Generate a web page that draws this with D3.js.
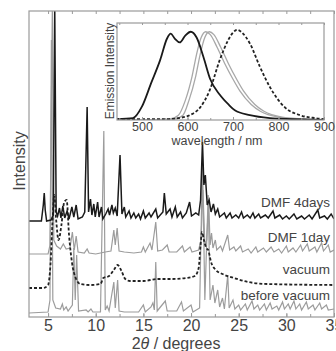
<!DOCTYPE html>
<html>
<head>
<meta charset="utf-8">
<script src="https://cdn.jsdelivr.net/npm/d3@7/dist/d3.min.js"></script>
<style>
  html, body { margin: 0; padding: 0; background: #fff; }
  svg { display: block; }
  text { font-family: "Liberation Sans", Arial, Helvetica, sans-serif; fill: #444; }
</style>
</head>
<body>
<svg id="chart" width="336" height="351"></svg>
<script>
// ---------- DATA ----------
// XRD patterns: [2theta (deg), stacked intensity (a.u.)]
const xTicks = [5, 10, 15, 20, 25, 30, 35];
const xMinorTicks = [5, 7.5, 10, 12.5, 15, 17.5, 20, 22.5, 25, 27.5, 30, 32.5, 35];
const traceLabels = ["DMF 4days", "DMF 1day", "vacuum", "before vacuum"];
const labelLevels = [110, 75, 43, 17];

const dmf4days = [
  [3.0,96],[4.3,96],[4.5,112],[4.6,124],[4.7,107],[4.85,96],[5.3,97],[5.55,102],[5.7,310],[5.85,105],
  [6.0,101],[6.2,109],[6.35,99],[6.55,111],[6.75,99],[7.0,106],[7.2,98],[7.5,110],[7.7,100],[7.95,112],
  [8.15,98],[8.6,100],[8.85,105],[9.1,210],[9.25,105],[9.45,118],[9.6,102],[9.8,113],[9.95,100],[10.2,115],
  [10.35,100],[10.6,110],[10.75,98],[11.05,103],[11.3,108],[11.45,102],[11.7,112],[11.85,104],[12.05,109],[12.25,101],
  [12.55,162],[12.75,103],[13.0,110],[13.15,100],[13.5,106],[13.7,99],[14.0,104],[14.2,99],[14.5,103],[14.7,98],
  [15.0,106],[15.2,99],[15.6,104],[15.8,100],[16.3,108],[16.5,99],[17.05,105],[17.2,124],[17.4,103],[17.8,108],
  [18.0,100],[18.35,110],[18.55,100],[18.9,105],[19.1,99],[19.5,104],[19.85,115],[20.05,101],[20.5,104],[20.8,102],
  [21.0,117],[21.2,175],[21.35,132],[21.5,142],[21.7,112],[21.9,117],[22.1,105],[22.35,113],[22.55,103],[22.8,108],
  [23.0,100],[23.5,104],[23.7,99],[24.1,104],[24.3,99],[24.7,102],[25.0,99],[25.3,105],[25.5,99],[25.9,102],
  [26.2,99],[26.5,104],[26.7,99],[27.1,103],[27.3,99],[27.8,102],[28.1,99],[28.6,106],[28.8,99],[29.3,102],
  [29.6,98],[30.0,101],[30.3,98],[30.8,103],[31.1,98],[31.6,101],[31.9,98],[32.4,102],[32.7,98],[33.3,107],
  [33.5,99],[34.0,101],[34.3,98],[34.7,103],[35.0,98]
];
const dmf1day = [
  [3.0,63],[5.0,63],[5.2,72],[5.45,310],[5.6,77],[5.9,71],[6.3,68],[6.6,73],[6.9,68],[7.3,69],
  [7.55,85],[7.75,67],[7.95,81],[8.15,65],[8.8,64],[9.1,68],[9.3,64],[10.0,63],[10.5,64],[11.0,65],
  [11.6,66],[11.9,87],[12.05,72],[12.25,89],[12.45,66],[13.0,65],[14.0,64],[14.8,65],[15.0,70],[15.2,65],
  [15.7,74],[15.9,67],[16.3,95],[16.5,66],[17.0,67],[17.5,72],[17.7,65],[18.5,65],[19.1,71],[19.3,65],
  [19.9,70],[20.1,65],[20.8,67],[21.05,77],[21.25,127],[21.45,72],[21.65,77],[21.85,117],[22.0,72],[22.15,84],
  [22.3,69],[22.55,77],[22.7,67],[23.1,71],[23.3,66],[23.85,82],[24.05,67],[24.5,70],[24.7,66],[25.2,71],
  [25.4,65],[26.0,68],[26.3,64],[26.8,70],[27.0,65],[27.6,69],[27.9,65],[28.4,70],[28.7,65],[29.2,68],
  [29.5,64],[30.0,71],[30.2,65],[30.7,69],[31.0,65],[31.5,72],[31.7,66],[32.2,73],[32.4,66],[33.0,70],
  [33.2,65],[33.7,74],[33.9,66],[34.4,72],[34.6,65],[35.0,67]
];
const vacuum = [
  [3.0,29],[4.5,29],[5.0,32],[5.25,52],[5.45,92],[5.65,122],[5.85,97],[6.1,77],[6.4,92],[6.7,115],
  [6.95,117],[7.2,82],[7.5,55],[7.9,39],[8.4,33],[9.5,32],[10.5,33],[10.8,39],[11.4,41],[11.9,47],
  [12.3,52],[12.7,46],[13.1,38],[13.6,36],[15.0,36],[16.5,38],[18.0,38],[19.5,39],[20.4,41],[20.8,49],
  [21.0,72],[21.15,85],[21.35,77],[21.6,69],[21.8,67],[22.1,55],[22.6,47],[23.3,43],[24.5,39],[26.0,35],
  [28.0,33],[35.0,32]
];
const beforeVacuum = [
  [3.0,4],[5.0,5],[5.2,17],[5.35,277],[5.5,17],[5.8,9],[6.3,8],[6.5,13],[6.65,7],[6.9,10],
  [7.1,6],[7.55,12],[7.7,69],[7.85,17],[8.0,62],[8.2,6],[9.0,7],[9.2,5],[9.5,8],[9.7,5],
  [10.5,5],[10.85,186],[11.0,7],[11.2,11],[11.4,6],[11.9,35],[12.05,9],[12.3,37],[12.45,6],[13.0,5],
  [14.5,5],[15.0,12],[15.2,5],[15.8,10],[16.0,14],[16.15,7],[16.3,55],[16.45,6],[17.3,16],[17.5,6],
  [18.5,6],[19.0,15],[19.2,6],[20.0,12],[20.2,5],[20.9,9],[21.2,157],[21.45,17],[21.8,122],[22.0,17],
  [22.3,32],[22.5,14],[22.8,27],[23.0,10],[23.3,19],[23.5,8],[23.85,42],[24.0,9],[24.4,17],[24.6,8],
  [25.0,12],[25.2,7],[25.7,13],[25.9,7],[26.4,16],[26.6,8],[27.0,12],[27.2,7],[27.7,13],[27.9,7],
  [28.3,14],[28.5,8],[29.0,11],[29.2,7],[29.6,15],[29.8,8],[30.2,13],[30.4,8],[30.8,16],[31.0,8],
  [31.4,13],[31.6,7],[32.1,15],[32.3,8],[32.8,12],[33.0,7],[33.5,14],[33.7,8],[34.2,12],[34.4,7],[35.0,8]
];

// Inset: emission spectra [wavelength (nm), normalised intensity]
const insetTicks = [500, 600, 700, 800, 900];
const insetMinorTicks = [450, 500, 550, 600, 650, 700, 750, 800, 850, 900];
const emBlack = [
  [445,0.01],[480,0.02],[500,0.14],[520,0.38],[540,0.62],[555,0.84],[563,0.89],[572,0.84],[583,0.80],[595,0.87],
  [607,0.91],[620,0.85],[635,0.65],[650,0.42],[671,0.26],[690,0.16],[704,0.10],[737,0.05],[781,0.02],[830,0.01],[900,0.0]
];
const emGray1 = [
  [445,0.0],[560,0.01],[580,0.05],[595,0.2],[610,0.45],[620,0.68],[630,0.85],[640,0.91],[650,0.88],[665,0.75],
  [682,0.58],[700,0.42],[715,0.3],[740,0.16],[760,0.09],[800,0.03],[850,0.01],[900,0.0]
];
const emGray2 = [
  [445,0.0],[570,0.01],[590,0.05],[603,0.2],[618,0.45],[628,0.68],[638,0.85],[648,0.91],[658,0.88],[673,0.75],
  [690,0.58],[708,0.42],[723,0.3],[748,0.16],[768,0.09],[808,0.03],[858,0.01],[900,0.0]
];
const emDashed = [
  [445,0.01],[560,0.01],[580,0.02],[605,0.05],[628,0.13],[649,0.31],[671,0.62],[689,0.82],[700,0.9],[709,0.93],
  [720,0.9],[737,0.79],[759,0.55],[781,0.34],[814,0.13],[847,0.05],[880,0.02],[900,0.01]
];

// ---------- LAYOUT ----------
const svg = d3.select("#chart");
const M = { left: 29, top: 11, right: 334, bottom: 317 };
const x = d3.scaleLinear().domain([3, 35]).range([M.left, M.right]);
const y = d3.scaleLinear().domain([0, 306]).range([M.bottom, M.top]);

const frameCol = "#9a9a9a";

svg.append("defs").append("clipPath").attr("id", "clipMain")
  .append("rect").attr("x", M.left).attr("y", M.top)
  .attr("width", M.right - M.left).attr("height", M.bottom - M.top);

const line = d3.line().x(d => x(d[0])).y(d => y(d[1]));
const gTr = svg.append("g").attr("clip-path", "url(#clipMain)");

gTr.append("path").datum(beforeVacuum).attr("d", line)
  .attr("fill", "none").attr("stroke", "#9c9c9c").attr("stroke-width", 1.2);
gTr.append("path").datum(dmf1day).attr("d", line)
  .attr("fill", "none").attr("stroke", "#9c9c9c").attr("stroke-width", 1.2);
gTr.append("path").datum(vacuum).attr("d", d3.line().x(d => x(d[0])).y(d => y(d[1])).curve(d3.curveMonotoneX))
  .attr("fill", "none").attr("stroke", "#222").attr("stroke-width", 1.8).attr("stroke-dasharray", "3,2");
gTr.append("path").datum(dmf4days).attr("d", line)
  .attr("fill", "none").attr("stroke", "#1a1a1a").attr("stroke-width", 1.5);

// frame
svg.append("rect").attr("x", M.left).attr("y", M.top)
  .attr("width", M.right - M.left).attr("height", M.bottom - M.top)
  .attr("fill", "none").attr("stroke", frameCol).attr("stroke-width", 1.2);

// axes
const axB = svg.append("g").attr("transform", `translate(0,${M.bottom})`)
  .call(d3.axisBottom(x).tickValues(xTicks).tickSizeInner(-4).tickSizeOuter(0).tickPadding(3).tickFormat(d3.format("d")));
svg.append("g").attr("transform", `translate(0,${M.bottom})`)
  .call(d3.axisBottom(x).tickValues(xMinorTicks).tickSizeInner(-3).tickSizeOuter(0).tickFormat(""));
svg.append("g").attr("transform", `translate(0,${M.top})`)
  .call(d3.axisTop(x).tickValues(xMinorTicks).tickSizeInner(-3).tickSizeOuter(0).tickFormat(""));
svg.selectAll(".domain").remove();
svg.selectAll(".tick line").attr("stroke", frameCol);
axB.selectAll("text").attr("font-size", "16px").attr("fill", "#444")
  .attr("font-family", "Liberation Sans, Arial, sans-serif");

// axis titles
const xt = svg.append("text").attr("x", 176).attr("y", 349).attr("text-anchor", "middle")
  .attr("font-size", "16px");
xt.append("tspan").text("2");
xt.append("tspan").attr("font-style", "italic").text("θ");
xt.append("tspan").text(" / degrees");

svg.append("text").attr("transform", "translate(25,161) rotate(-90)")
  .attr("text-anchor", "middle").attr("font-size", "16px").text("Intensity");

// trace labels
svg.selectAll(".tlab").data(traceLabels).enter().append("text")
  .attr("class", "tlab")
  .attr("x", 330).attr("y", (d, i) => y(labelLevels[i]))
  .attr("text-anchor", "end").attr("font-size", "13.5px").attr("fill", "#4a4a4a")
  .text(d => d);

// ---------- INSET ----------
const I = { left: 117, top: 23, right: 324, bottom: 120 };
const xi = d3.scaleLinear().domain([445, 900]).range([I.left, I.right]);
const yi = d3.scaleLinear().domain([0, 1]).range([I.bottom, I.top]);

svg.append("rect").attr("x", I.left).attr("y", I.top)
  .attr("width", I.right - I.left).attr("height", I.bottom - I.top)
  .attr("fill", "#fff").attr("stroke", "none");

svg.append("defs").append("clipPath").attr("id", "clipInset")
  .append("rect").attr("x", I.left).attr("y", I.top)
  .attr("width", I.right - I.left).attr("height", I.bottom - I.top);

const iline = d3.line().x(d => xi(d[0])).y(d => yi(d[1])).curve(d3.curveMonotoneX);
const gIn = svg.append("g").attr("clip-path", "url(#clipInset)");
gIn.append("path").datum(emGray1).attr("d", iline)
  .attr("fill", "none").attr("stroke", "#a8a8a8").attr("stroke-width", 1.3);
gIn.append("path").datum(emGray2).attr("d", iline)
  .attr("fill", "none").attr("stroke", "#a8a8a8").attr("stroke-width", 1.3);
gIn.append("path").datum(emDashed).attr("d", iline)
  .attr("fill", "none").attr("stroke", "#222").attr("stroke-width", 1.8).attr("stroke-dasharray", "3,2");
gIn.append("path").datum(emBlack).attr("d", iline)
  .attr("fill", "none").attr("stroke", "#1a1a1a").attr("stroke-width", 1.8);

svg.append("rect").attr("x", I.left).attr("y", I.top)
  .attr("width", I.right - I.left).attr("height", I.bottom - I.top)
  .attr("fill", "none").attr("stroke", frameCol).attr("stroke-width", 1.2);

const iaxB = svg.append("g").attr("transform", `translate(0,${I.bottom})`)
  .call(d3.axisBottom(xi).tickValues(insetTicks).tickSizeInner(-3).tickSizeOuter(0).tickPadding(2));
svg.append("g").attr("transform", `translate(0,${I.bottom})`)
  .call(d3.axisBottom(xi).tickValues(insetMinorTicks).tickSizeInner(-2).tickSizeOuter(0).tickFormat(""));
svg.append("g").attr("transform", `translate(0,${I.top})`)
  .call(d3.axisTop(xi).tickValues(insetMinorTicks).tickSizeInner(-2).tickSizeOuter(0).tickFormat(""));
svg.selectAll(".domain").remove();
svg.selectAll(".tick line").attr("stroke", frameCol);
iaxB.selectAll("text").attr("font-size", "12.5px").attr("fill", "#444")
  .attr("font-family", "Liberation Sans, Arial, sans-serif");

svg.append("text").attr("x", 217).attr("y", 144.5).attr("text-anchor", "middle")
  .attr("font-size", "12.5px").text("wavelength / nm");
svg.append("text").attr("transform", "translate(114,71) rotate(-90)")
  .attr("text-anchor", "middle").attr("font-size", "12px").text("Emission Intensity");
</script>
</body>
</html>
